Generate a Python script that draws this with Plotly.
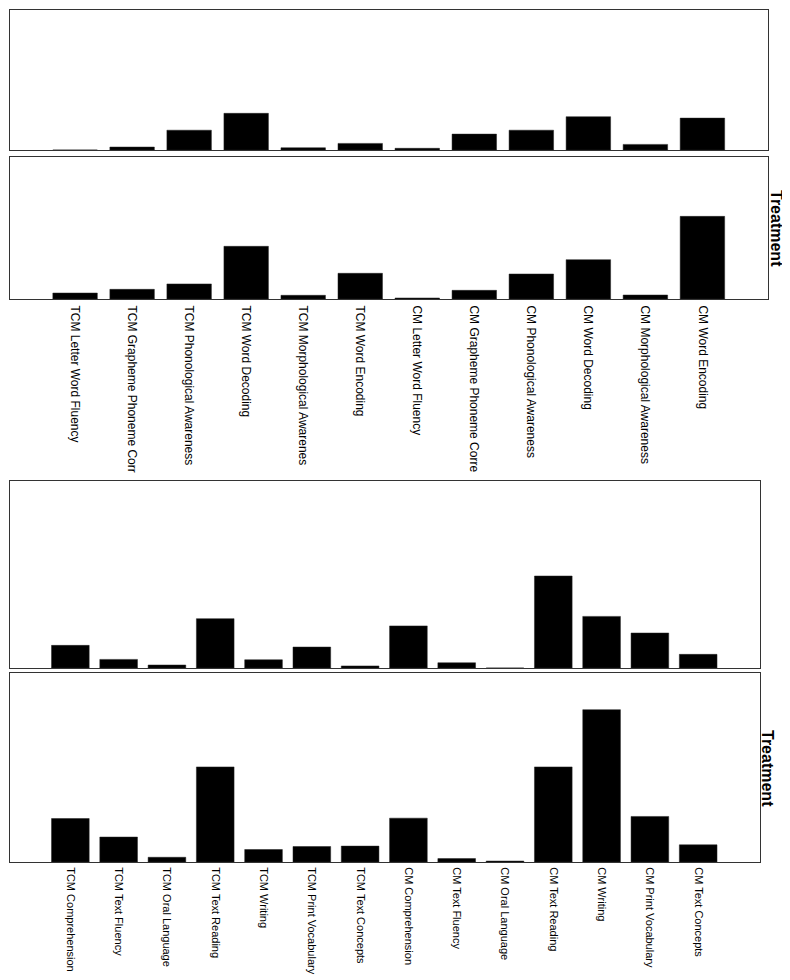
import plotly.graph_objects as go

# ---- data ----
word_categories = [
    "TCM Letter Word Fluency", "TCM Grapheme Phoneme Corr", "TCM Phonological Awareness",
    "TCM Word Decoding", "TCM Morphological Awarenes", "TCM Word Encoding",
    "CM Letter Word Fluency", "CM Grapheme Phoneme Corre", "CM Phonological Awareness",
    "CM Word Decoding", "CM Morphological Awareness", "CM Word Encoding",
]
word_control = [0, 2.1, 14.1, 26.1, 1.6, 4.7, 1.2, 11.3, 14.1, 23.7, 4.0, 22.7]
word_treatment = [4.2, 6.8, 10.6, 37.1, 2.6, 18.1, 0.7, 6.1, 17.6, 27.7, 2.8, 58.2]

text_categories = [
    "TCM Comprehension", "TCM Text Fluency", "TCM Oral Language", "TCM Text Reading",
    "TCM Writing", "TCM Print Vocabulary", "TCM Text Concepts", "CM Comprehension",
    "CM Text Fluency", "CM Oral Language", "CM Text Reading", "CM Writing",
    "CM Print Vocabulary", "CM Text Concepts",
]
text_control = [12.1, 4.6, 1.6, 26.4, 4.4, 11.2, 1.1, 22.5, 2.8, 0, 49.2, 27.6, 18.7, 7.3]
text_treatment = [23.0, 13.2, 2.5, 50.3, 6.6, 8.2, 8.4, 23.2, 1.8, 0.5, 50.3, 80.6, 24.1, 9.1]

panel_label = "Treatment"
y_max = 100

W, H = 790, 980
OFF = 7  # page body margin offset

def px_x(a, b):
    return [(a - OFF) / W, (b - OFF) / W]

def px_y(top, bottom):
    return [1 - (bottom - OFF) / H, 1 - (top - OFF) / H]

fig = go.Figure()
series = [
    (word_categories, word_control, "x", "y"),
    (word_categories, word_treatment, "x2", "y2"),
    (text_categories, text_control, "x3", "y3"),
    (text_categories, text_treatment, "x4", "y4"),
]
for cats, vals, xa, ya in series:
    fig.add_trace(go.Bar(x=cats, y=vals, xaxis=xa, yaxis=ya,
                         marker=dict(color="black", line=dict(color="#222", width=0.5)),
                         showlegend=False))

frame = dict(showline=True, mirror=True, linecolor="#333", linewidth=1,
             showgrid=False, zeroline=False, ticks="", fixedrange=True, automargin=False)
tickfont_top = dict(family="Liberation Sans, Arial, sans-serif", size=12, color="black")
tickfont_bot = dict(family="Liberation Sans, Arial, sans-serif", size=11, color="black")

top_xdom = px_x(8.5, 767)
bot_xdom = px_x(8.5, 759)
top_range = [-1.15, 12.15]
bot_range = [-1.26, 14.28]

fig.update_layout(
    width=W, height=H, margin=dict(l=0, r=0, t=0, b=0, autoexpand=False),
    paper_bgcolor="white", plot_bgcolor="white", bargap=0.22,
    xaxis=dict(domain=top_xdom, anchor="y", range=top_range, showticklabels=False, **frame),
    yaxis=dict(domain=px_y(8.5, 149), anchor="x", range=[0, y_max], showticklabels=False, **frame),
    xaxis2=dict(domain=top_xdom, anchor="y2", range=top_range, tickangle=90,
                tickfont=tickfont_top, ticklabelstandoff=3, **frame),
    yaxis2=dict(domain=px_y(156, 298), anchor="x2", range=[0, y_max], showticklabels=False, **frame),
    xaxis3=dict(domain=bot_xdom, anchor="y3", range=bot_range, showticklabels=False, **frame),
    yaxis3=dict(domain=px_y(480, 667), anchor="x3", range=[0, y_max], showticklabels=False, **frame),
    xaxis4=dict(domain=bot_xdom, anchor="y4", range=bot_range, tickangle=90,
                tickfont=tickfont_bot, ticklabelstandoff=2, **frame),
    yaxis4=dict(domain=px_y(672, 861), anchor="x4", range=[0, y_max], showticklabels=False, **frame),
    font=dict(family="Liberation Sans, Arial, sans-serif", color="black"),
)

ann_font = dict(family="Liberation Sans, Arial, sans-serif", size=16, color="black")
fig.add_annotation(text="<b>%s</b>" % panel_label, textangle=90, x=(776 - OFF) / W,
                   y=1 - (227 - OFF) / H, xref="paper", yref="paper", showarrow=False,
                   font=ann_font, xanchor="center", yanchor="middle")
fig.add_annotation(text="<b>%s</b>" % panel_label, textangle=90, x=(767 - OFF) / W,
                   y=1 - (767 - OFF) / H, xref="paper", yref="paper", showarrow=False,
                   font=ann_font, xanchor="center", yanchor="middle")

fig.write_html("out.html")
